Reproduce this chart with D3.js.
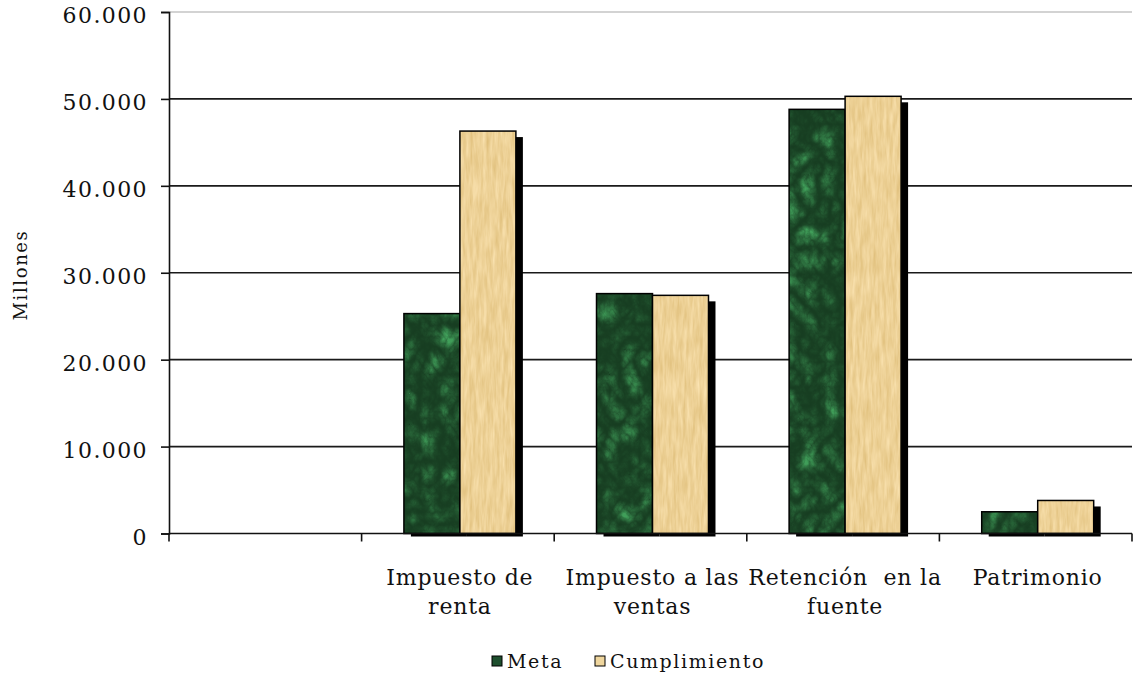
<!DOCTYPE html>
<html>
<head>
<meta charset="utf-8">
<script src="https://cdn.jsdelivr.net/npm/d3@7"></script>
<style>
  body { margin: 0; background: #fff; }
  svg text { font-family: "DejaVu Serif", serif; fill: #111; }
</style>
</head>
<body>
<svg id="chart" width="1135" height="675"></svg>
<script>
//////////////////////////////////////
// Data

const categories = ["", "Impuesto de\nrenta", "Impuesto a las\nventas", "Retención  en la\nfuente", "Patrimonio"];
const series = ["Meta", "Cumplimiento"];
const meta = [null, 25300, 27600, 48800, 2500];
const cumplimiento = [null, 46300, 27400, 50300, 3800];
const yTicks = [0, 10000, 20000, 30000, 40000, 50000, 60000];

//////////////////////////////////////
// Layout

const plotLeft = 169, plotRight = 1132, plotTop = 12, plotBottom = 533.5;
const shadowDx = 7, shadowDy = 6;

const svg = d3.select("#chart");
const defs = svg.append("defs");

// green marble texture
const fm = defs.append("filter").attr("id", "marble")
  .attr("color-interpolation-filters", "sRGB")
  .attr("x", 0).attr("y", 0).attr("width", 1).attr("height", 1);
fm.append("feTurbulence").attr("type", "turbulence")
  .attr("baseFrequency", "0.05 0.04").attr("numOctaves", 4).attr("seed", 7).attr("result", "t");
const ct = fm.append("feComponentTransfer").attr("in", "t").attr("result", "g");
ct.append("feFuncR").attr("type", "gamma").attr("amplitude", 1.6).attr("exponent", 2.2).attr("offset", 0);
fm.append("feColorMatrix").attr("in", "g").attr("type", "matrix")
  .attr("values", "0.16 0 0 0 0.09  0.38 0 0 0 0.24  0.22 0 0 0 0.13  0 0 0 0 1").attr("result", "c");
fm.append("feComposite").attr("in", "c").attr("in2", "SourceGraphic").attr("operator", "in");

// parchment texture
const fp = defs.append("filter").attr("id", "paper")
  .attr("color-interpolation-filters", "sRGB")
  .attr("x", 0).attr("y", 0).attr("width", 1).attr("height", 1);
fp.append("feTurbulence").attr("type", "fractalNoise")
  .attr("baseFrequency", "0.3 0.04").attr("numOctaves", 3).attr("seed", 2).attr("result", "t");
fp.append("feColorMatrix").attr("in", "t").attr("type", "matrix")
  .attr("values", "0.12 0 0 0 0.87  0.16 0 0 0 0.74  0.24 0 0 0 0.47  0 0 0 0 1").attr("result", "c");
fp.append("feComposite").attr("in", "c").attr("in2", "SourceGraphic").attr("operator", "in");

const fills = { "Meta": "url(#marble)", "Cumplimiento": "url(#paper)" };
const swatch = { "Meta": "#1e4f2e", "Cumplimiento": "#efd69e" };

const x = d3.scaleBand().domain(categories).range([plotLeft, plotRight]).padding(0);
const x1 = d3.scaleBand().domain(series).range([0, x.bandwidth()])
  .paddingInner(0).paddingOuter(0.72);
const y = d3.scaleLinear().domain([0, 60000]).range([plotBottom, plotTop]);

// gridlines
svg.append("g").selectAll("line")
  .data(yTicks.filter(d => d > 0))
  .join("line")
  .attr("x1", plotLeft).attr("x2", plotRight)
  .attr("y1", d => y(d)).attr("y2", d => y(d))
  .attr("stroke", d => d === 60000 ? "#c4c4c4" : "#1a1a1a")
  .attr("stroke-width", 1.6);

// bars
const rows = [];
categories.forEach(function(c, i) {
  if (meta[i] != null) rows.push({ cat: c, s: "Meta", v: meta[i] });
  if (cumplimiento[i] != null) rows.push({ cat: c, s: "Cumplimiento", v: cumplimiento[i] });
});

const bx = d => x(d.cat) + x1(d.s) + 2;

svg.append("g").selectAll("rect")
  .data(rows)
  .join("rect")
  .attr("x", d => bx(d) + shadowDx)
  .attr("y", d => y(d.v) + shadowDy)
  .attr("width", x1.bandwidth())
  .attr("height", d => plotBottom - y(d.v) - shadowDy + 3)
  .attr("fill", "#000");

const bars = svg.append("g").selectAll("g")
  .data(rows)
  .join("g");

bars.append("rect")
  .attr("x", d => bx(d))
  .attr("y", d => y(d.v))
  .attr("width", x1.bandwidth())
  .attr("height", d => plotBottom - y(d.v))
  .attr("fill", "#fff")
  .attr("filter", d => fills[d.s]);

bars.append("rect")
  .attr("x", d => bx(d))
  .attr("y", d => y(d.v))
  .attr("width", x1.bandwidth())
  .attr("height", d => plotBottom - y(d.v))
  .attr("fill", "none")
  .attr("stroke", "#000")
  .attr("stroke-width", 1.5);

// y axis
const yAxis = svg.append("g")
  .attr("transform", "translate(" + plotLeft + ",0)")
  .call(d3.axisLeft(y).tickValues(yTicks).tickSize(8).tickPadding(13)
    .tickFormat(d => d3.format(",")(d).replace(/,/g, ".")));
yAxis.select(".domain").attr("stroke", "#111").attr("stroke-width", 1.6);
yAxis.selectAll(".tick line").attr("stroke", "#111").attr("stroke-width", 1.6);
yAxis.selectAll(".tick text")
  .attr("font-size", 22).attr("letter-spacing", 1.4)
  .attr("dy", "0.48em").attr("fill", "#111");

// x axis line + ticks at band edges
const xg = svg.append("g");
xg.append("line")
  .attr("x1", plotLeft).attr("x2", plotRight)
  .attr("y1", plotBottom).attr("y2", plotBottom)
  .attr("stroke", "#111").attr("stroke-width", 1.6);
xg.selectAll("line.tk")
  .data(categories.map(c => x(c)).concat([plotRight]))
  .join("line").attr("class", "tk")
  .attr("x1", d => d).attr("x2", d => d)
  .attr("y1", plotBottom).attr("y2", plotBottom + 8)
  .attr("stroke", "#111").attr("stroke-width", 1.6);

// category labels
const lab = xg.selectAll("text.cat")
  .data(categories.filter(c => c !== ""))
  .join("text").attr("class", "cat")
  .attr("text-anchor", "middle")
  .attr("font-size", 22)
  .attr("letter-spacing", 0.8)
  .style("white-space", "pre");
lab.selectAll("tspan")
  .data(c => c.split("\n").map(t => ({ t: t, c: c })))
  .join("tspan")
  .attr("x", d => x(d.c) + x.bandwidth() / 2 + 2)
  .attr("y", (d, i) => 585 + i * 29)
  .text(d => d.t);

// y title
svg.append("text")
  .attr("transform", "translate(27,275) rotate(-90)")
  .attr("text-anchor", "middle")
  .attr("font-size", 18)
  .attr("letter-spacing", 1.6)
  .text("Millones");

// legend
const legX = [492, 595];
const leg = svg.append("g").selectAll("g")
  .data(series)
  .join("g")
  .attr("transform", (d, i) => "translate(" + legX[i] + ",656)");
leg.append("rect")
  .attr("width", 10).attr("height", 10)
  .attr("fill", d => swatch[d])
  .attr("stroke", "#000").attr("stroke-width", 1);
leg.append("text")
  .attr("x", 15).attr("y", 11.5)
  .attr("font-size", 19)
  .attr("letter-spacing", 1.6)
  .text(d => d);
</script>
</body>
</html>
